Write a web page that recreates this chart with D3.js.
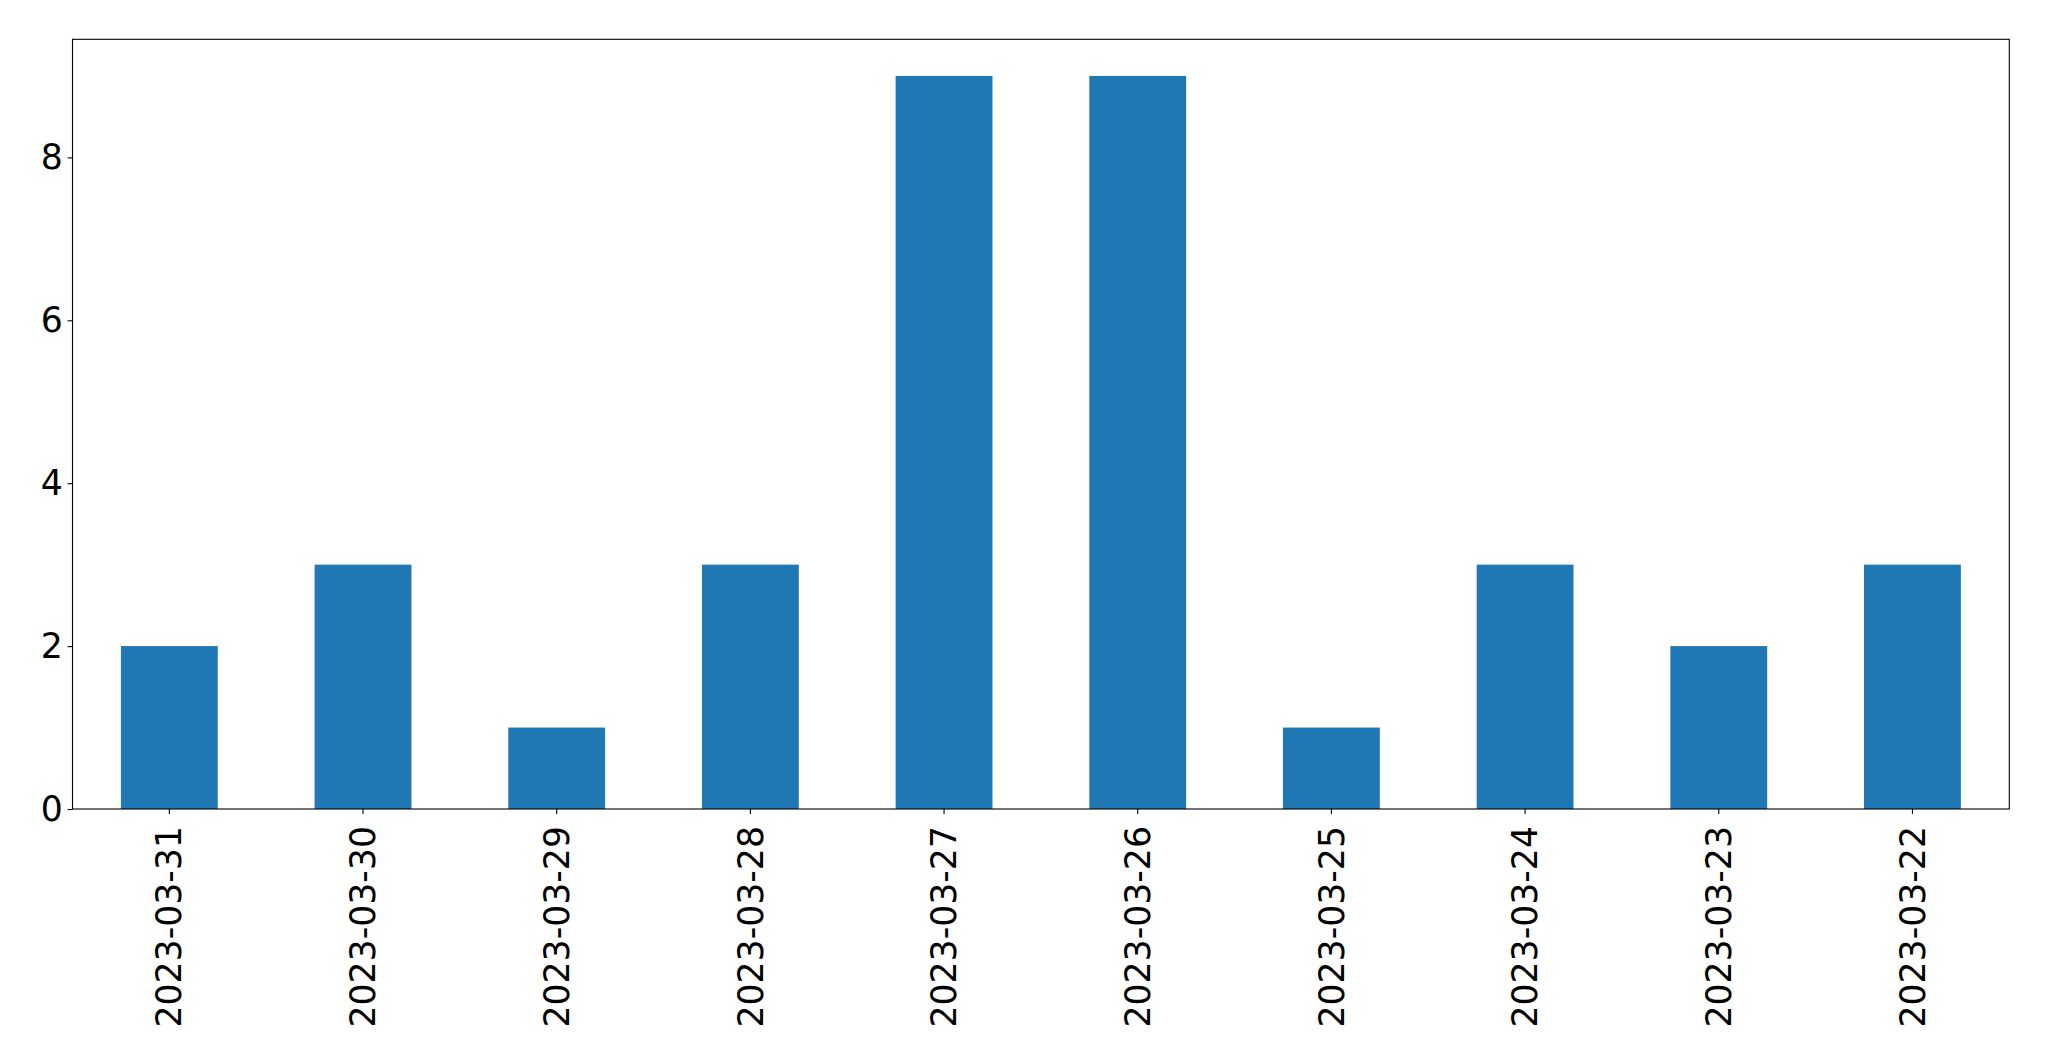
<!DOCTYPE html>
<html><head><meta charset="utf-8">
<script src="https://cdn.jsdelivr.net/npm/d3@7"></script>
<style>html,body{margin:0;padding:0;background:#fff;}svg{display:block;}</style>
</head><body>
<script>
const categories = ["2023-03-31","2023-03-30","2023-03-29","2023-03-28","2023-03-27","2023-03-26","2023-03-25","2023-03-24","2023-03-23","2023-03-22"];
const values = [2,3,1,3,9,9,1,3,2,3];
const yTicks = [0,2,4,6,8];

const W = 2049, H = 1061;
const L = 72.5, R = 2009.3, T = 39.3, B = 809;
const svg = d3.select("body").append("svg").attr("width", W).attr("height", H);

const x = d3.scaleBand().domain(categories).range([L, R]).paddingInner(0.5).paddingOuter(0.25);
const y = d3.scaleLinear().domain([0, d3.max(values) * 1.05]).range([B, T]);

svg.append("g").selectAll("rect").data(values).join("rect")
  .attr("x", (d, i) => x(categories[i]))
  .attr("width", x.bandwidth())
  .attr("y", d => y(d))
  .attr("height", d => y(0) - y(d))
  .attr("fill", "#1f77b4");

const font = "'DejaVu Sans', sans-serif";
const fs = 34.7;
const ya = svg.append("g").attr("transform", `translate(${L},0)`)
  .call(d3.axisLeft(y).tickValues(yTicks).tickSize(4.9).tickPadding(4.9).tickFormat(d3.format("d")));
ya.select(".domain").remove();
ya.selectAll("line").attr("stroke", "#000").attr("stroke-width", 1.1);
ya.selectAll("text").attr("font-family", font).attr("font-size", fs).attr("fill", "#000");

const xa = svg.append("g").attr("transform", `translate(0,${B})`)
  .call(d3.axisBottom(x).tickSize(4.9).tickPadding(4.9));
xa.select(".domain").remove();
xa.selectAll("line").attr("stroke", "#000").attr("stroke-width", 1.1);
xa.selectAll("text").attr("font-family", font).attr("font-size", fs).attr("fill", "#000")
  .attr("transform", "rotate(-90)")
  .attr("text-anchor", "end")
  .attr("x", -17).attr("y", 0).attr("dy", "0.35em");

svg.append("rect").attr("x", L).attr("y", T).attr("width", R - L).attr("height", B - T)
  .attr("fill", "none").attr("stroke", "#000").attr("stroke-width", 1.1);
</script>
</body></html>
